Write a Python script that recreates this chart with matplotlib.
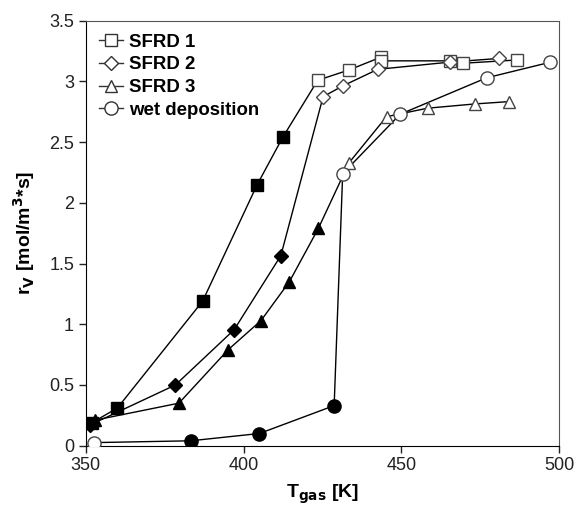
import numpy as np
import matplotlib.pyplot as plt

plt.rcParams['font.family'] = ['Liberation Sans', 'DejaVu Sans']

# SFRD 1
t1 = [352, 360, 387, 404.3, 412.4, 423.5, 433.4, 443.5, 443.5, 465.5, 469.4, 486.6]
r1 = [0.19, 0.31, 1.19, 2.15, 2.54, 3.01, 3.095, 3.2, 3.17, 3.17, 3.15, 3.177]
f1 = [True, True, True, True, True, False, False, False, False, False, False, False]

# SFRD 2
t2 = [351.3, 378.4, 397, 411.8, 425.2, 431.4, 442.5, 465.5, 481]
r2 = [0.17, 0.5, 0.955, 1.565, 2.875, 2.963, 3.1, 3.16, 3.19]
f2 = [True, True, True, True, False, False, False, False, False]

# SFRD 3
t3 = [352.9, 379.5, 395.1, 405.5, 414.5, 423.7, 433.4, 445.3, 458.3, 473.3, 484]
r3 = [0.21, 0.35, 0.79, 1.03, 1.35, 1.79, 2.33, 2.71, 2.78, 2.815, 2.834]
f3 = [True, True, True, True, True, True, False, False, False, False, False]

# wet deposition
t4 = [352.5, 383.2, 405, 428.7, 431.4, 449.6, 477, 497.1]
r4 = [0.025, 0.04, 0.1, 0.33, 2.24, 2.73, 3.03, 3.158]
f4 = [False, True, True, True, False, False, False, False]

series = [
    ('SFRD 1', t1, r1, f1, 's', 8),
    ('SFRD 2', t2, r2, f2, 'D', 7),
    ('SFRD 3', t3, r3, f3, '^', 9),
    ('wet deposition', t4, r4, f4, 'o', 9.5),
]

fig = plt.figure(figsize=(5.8, 5.07), dpi=100)
ax = fig.add_axes([0.148, 0.121, 0.816, 0.838])

for name, t, r, f, m, ms in series:
    t = np.array(t)
    r = np.array(r)
    f = np.array(f)
    ax.plot(t, r, '-', color='k', lw=1, zorder=2)
    ax.plot(t[f], r[f], ls='none', marker=m, ms=ms, mfc='k', mec='k', zorder=3)
    ax.plot(t[~f], r[~f], ls='none', marker=m, ms=ms, mfc='white', mec='#444444',
            mew=1, zorder=3)
    ax.plot([], [], '-', color='#333333', lw=1, marker=m, ms=ms, mfc='white',
            mec='#333333', label=name)

ax.set_xlim(350, 500)
ax.set_ylim(0, 3.5)
ax.set_xticks([350, 400, 450, 500])
ax.set_yticks([0, 0.5, 1, 1.5, 2, 2.5, 3, 3.5])
ax.set_yticklabels(['0', '0.5', '1', '1.5', '2', '2.5', '3', '3.5'])
ax.tick_params(labelsize=13, direction='out', length=5, width=1, colors='#222222')
for s in ['top', 'right']:
    ax.spines[s].set_color('#555555')

ax.set_xlabel(r'T$_{\mathbf{gas}}$ [K]', fontsize=14, fontweight='bold', labelpad=6)
ax.set_ylabel(r'r$_{\mathbf{V}}$ [mol/m$^{\mathbf{3}}$*s]', fontsize=14, fontweight='bold',
              labelpad=9)

ax.legend(loc='upper left', frameon=False, prop={'weight': 'bold', 'size': 13.4},
          handlelength=1.3, handletextpad=0.3, labelspacing=0.3,
          borderaxespad=0.3)

fig.savefig('out.png', dpi=100)
plt.close()
